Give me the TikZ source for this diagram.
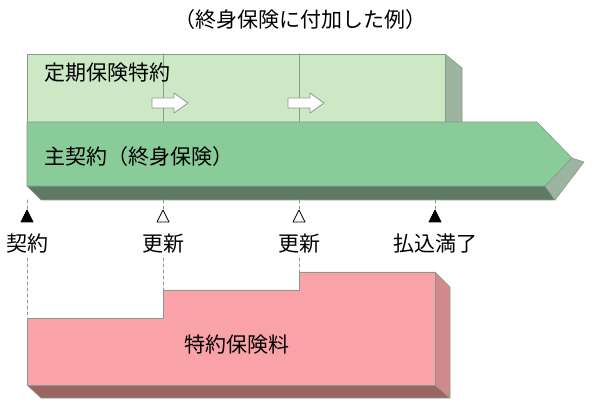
\documentclass[tikz,border=0pt]{standalone}
\usepackage{fontspec}
\setmainfont{Noto Sans CJK JP}
\definecolor{riderfill}{HTML}{CDE8C5}
\definecolor{mainfill}{HTML}{8ACB9A}
\definecolor{maindark}{HTML}{5E7A64}
\definecolor{hatchfill}{HTML}{9DB5A0}
\definecolor{pinkfill}{HTML}{F9A3A8}
\definecolor{pinkside}{HTML}{D08A8E}
\definecolor{pinkdark}{HTML}{9A6663}
\definecolor{edgegrey}{HTML}{8A9A8A}
\begin{document}
\begin{tikzpicture}[line cap=round,line join=round,x=1pt,y=-1pt,
  lbl/.style={font=\fontsize{21}{21}\selectfont,inner sep=0pt},
  face/.style={draw=edgegrey,line width=0.6pt},
  guide/.style={edgegrey,dashed,line width=1pt},
  tri/.style={draw=black,line width=0.8pt}]
\useasboundingbox (0,0) rectangle (600,414);
\node[lbl] (title) at (300,20) {（終身保険に付加した例）};
% rider
\fill[face,fill=hatchfill] (445,54) -- (462,68) -- (462,122) -- (445,122) -- cycle;
\fill[face,fill=riderfill] (27,54) rectangle (445,122);
\draw[edgegrey,line width=1pt] (163,54) -- (163,122) (299,54) -- (299,122);
\node[lbl,anchor=west] (rider) at (44,73) {定期保険特約};
\foreach \x in {152,288}
  \draw[face,fill=white,line width=0.8pt] (\x,98) -- (\x+22,98) -- (\x+22,93) -- (\x+36,103) -- (\x+22,113) -- (\x+22,108) -- (\x,108) -- cycle;
% main contract
\fill[face,fill=maindark] (27,186) -- (41,200) -- (555,200) -- (545,186) -- cycle;
\fill[face,fill=hatchfill] (545,186) -- (572,158) -- (584,162) -- (555,200) -- cycle;
\fill[face,fill=mainfill] (27,122) -- (537,122) -- (572,158) -- (545,186) -- (27,186) -- cycle;
\node[lbl,anchor=west] (main) at (44,157) {主契約（終身保険）};
% milestones
\foreach \x/\name/\txt/\col in {27/m1/契約/black,163/m2/更新/white,299/m3/更新/white,435/m4/払込満了/black}{
  \coordinate (\name top) at (\x,200);
  \coordinate (\name tri) at (\x,211);
  \draw[guide] (\name top) -- (\name tri);
  \filldraw[tri,fill=\col] (\x,210) -- (\x-6,222) -- (\x+6,222) -- cycle;
  \node[lbl] (\name) at (\x,244) {\txt};
}
\coordinate (p1) at (27,318);
\coordinate (p2) at (163,290);
\coordinate (p3) at (299,272);
\draw[guide] (m1) ++(0,14) -- (p1);
\draw[guide] (m2) ++(0,14) -- (p2);
\draw[guide] (m3) ++(0,14) -- (p3);
% rider premium
\fill[face,fill=pinkdark] (27,385) -- (41,398) -- (450,398) -- (435,385) -- cycle;
\fill[face,fill=pinkside] (435,272) -- (450,287) -- (450,398) -- (435,385) -- cycle;
\fill[face,fill=pinkfill] (27,385) -- (p1) -- (163,318) -- (p2) -- (299,290) -- (p3) -- (435,272) -- (435,385) -- cycle;
\node[lbl] (premium) at (237,345) {特約保険料};
\end{tikzpicture}
\end{document}
